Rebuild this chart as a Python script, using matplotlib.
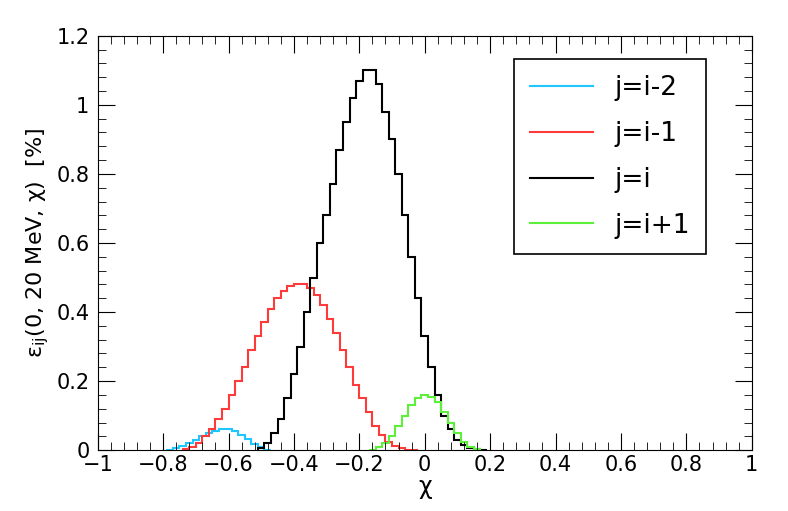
import numpy as np
import matplotlib
matplotlib.use("Agg")
import matplotlib.pyplot as plt
from matplotlib.ticker import MultipleLocator, FuncFormatter

bin_width = 0.02
black_start = -0.51
black_vals = [0.005,0.02,0.05,0.09,0.15,0.22,0.3,0.4,0.5,0.6,0.68,0.77,0.87,0.95,1.02,1.07,1.1,1.1,
              1.06,0.98,0.9,0.8,0.68,0.56,0.44,0.33,0.24,0.16,0.1,0.06,0.03,0.015,0.007,0.003,0.001]
red_start = -0.74
red_vals = [0.003,0.01,0.02,0.04,0.06,0.09,0.12,0.16,0.2,0.24,0.29,0.33,0.37,0.41,0.44,0.46,0.475,0.48,
            0.48,0.47,0.45,0.42,0.38,0.34,0.29,0.24,0.19,0.15,0.11,0.07,0.045,0.025,0.012,0.006,0.002,0.001]
cyan_start = -0.79
cyan_vals = [0.002,0.006,0.012,0.02,0.03,0.04,0.05,0.056,0.06,0.06,0.055,0.045,0.032,0.018,0.008,0.002]
green_start = -0.17
green_vals = [0.002,0.008,0.02,0.04,0.07,0.1,0.13,0.15,0.16,0.155,0.14,0.11,0.08,0.05,0.025,0.01,0.003]

series = [("j=i-2", cyan_start, cyan_vals, "#1ec8ff"),
          ("j=i-1", red_start, red_vals, "#ff3a3a"),
          ("j=i", black_start, black_vals, "black"),
          ("j=i+1", green_start, green_vals, "#5cf03a")]

fig = plt.figure(figsize=(7.88, 5.11), dpi=100)
ax = fig.add_axes([0.124, 0.119, 0.830, 0.811])
for label, start, vals, col in series:
    edges = start + bin_width * np.arange(len(vals) + 1)
    ax.stairs(vals, edges, color=col, lw=1.5, label=label)

ax.set_xlim(-1, 1)
ax.set_ylim(0, 1.2)
ax.xaxis.set_major_locator(MultipleLocator(0.2))
ax.xaxis.set_minor_locator(MultipleLocator(0.04))
ax.yaxis.set_major_locator(MultipleLocator(0.2))
ax.yaxis.set_minor_locator(MultipleLocator(0.04))
fmt = FuncFormatter(lambda v, p: ("%g" % round(v, 2)).replace("-", "\u2212") if abs(v) > 1e-9 else "0")
ax.xaxis.set_major_formatter(fmt)
ax.yaxis.set_major_formatter(fmt)
ax.tick_params(which="both", direction="in", top=True, right=True, labelsize=15)
ax.tick_params(axis="y", pad=6)
ax.tick_params(which="major", length=12)
ax.tick_params(which="minor", length=6)
ax.set_xlabel("\u03c7", fontsize=17, labelpad=0)
ax.set_ylabel(r"ε$_{\rm ij}$(0, 20 MeV, χ)  [%]", fontsize=16)
leg = ax.legend(loc="upper right", fontsize=19, frameon=True, fancybox=False, framealpha=1,
                edgecolor="black", borderpad=0.6, labelspacing=0.75, handlelength=2.4,
                bbox_to_anchor=(0.95, 0.975))
leg.get_frame().set_linewidth(1.2)
fig.savefig("out.png", dpi=100)
